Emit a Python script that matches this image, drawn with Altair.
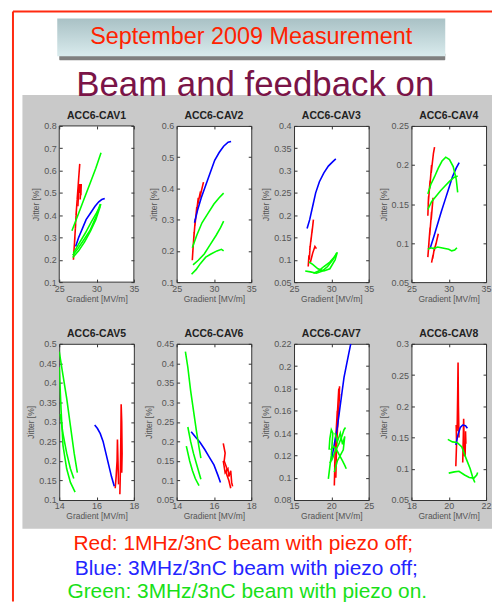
import altair as alt
import pandas as pd

# ---------------- text ----------------
TOP_TITLE = "September 2009 Measurement"
MAIN_TITLE = "Beam and feedback on"
LEGEND_LINES = [
    "Red: 1MHz/3nC beam with piezo off;",
    "Blue: 3MHz/3nC beam with piezo off;",
    "Green: 3MHz/3nC beam with piezo on.",
]
PANEL_TITLES = ["ACC6-CAV1", "ACC6-CAV2", "ACC6-CAV3", "ACC6-CAV4",
                "ACC6-CAV5", "ACC6-CAV6", "ACC6-CAV7", "ACC6-CAV8"]
X_LABEL = "Gradient [MV/m]"
Y_LABEL = "Jitter [%]"

# ---------------- axes ----------------
X_DOMAINS = [[25, 35], [25, 35], [25, 35], [25, 35], [14, 18], [14, 18], [15, 25], [18, 22]]
X_TICKS = [[25, 30, 35], [25, 30, 35], [25, 30, 35], [25, 30, 35],
           [14, 16, 18], [14, 16, 18], [15, 20, 25], [18, 20, 22]]
Y_DOMAINS = [[0.1, 0.8], [0.1, 0.6], [0.05, 0.4], [0.05, 0.25],
             [0.1, 0.5], [0.05, 0.45], [0.08, 0.22], [0.05, 0.3]]
Y_TICKS = [
    [0.1, 0.2, 0.3, 0.4, 0.5, 0.6, 0.7, 0.8],
    [0.1, 0.2, 0.3, 0.4, 0.5, 0.6],
    [0.05, 0.1, 0.15, 0.2, 0.25, 0.3, 0.35, 0.4],
    [0.05, 0.1, 0.15, 0.2, 0.25],
    [0.1, 0.15, 0.2, 0.25, 0.3, 0.35, 0.4, 0.45, 0.5],
    [0.05, 0.1, 0.15, 0.2, 0.25, 0.3, 0.35, 0.4, 0.45],
    [0.08, 0.1, 0.12, 0.14, 0.16, 0.18, 0.2, 0.22],
    [0.05, 0.1, 0.15, 0.2, 0.25, 0.3],
]

# ---------------- measured curves (gradient, jitter) ----------------
cav1_red_1 = [(26.9, 0.20), (27.0, 0.25), (26.95, 0.23), (27.1, 0.30), (27.05, 0.28), (27.2, 0.36),
              (27.15, 0.34), (27.3, 0.42), (27.25, 0.40), (27.45, 0.49), (27.4, 0.47), (27.6, 0.56),
              (27.55, 0.54), (27.75, 0.63)]
cav1_red_2 = [(27.5, 0.44), (27.65, 0.54), (27.75, 0.50), (27.85, 0.54), (27.9, 0.49), (27.95, 0.54), (27.8, 0.47)]
cav1_blue = [(27.2, 0.26), (27.6, 0.30), (28.1, 0.34), (28.6, 0.38), (29.2, 0.41), (29.8, 0.44),
             (30.3, 0.46), (30.7, 0.47), (31.1, 0.475)]
cav1_green_1 = [(26.7, 0.33), (27.5, 0.40), (28.3, 0.47), (29.1, 0.54), (29.9, 0.61), (30.6, 0.68)]
cav1_green_2 = [(26.8, 0.22), (27.5, 0.25), (28.3, 0.29), (29.1, 0.33), (29.9, 0.39), (30.5, 0.45)]
cav1_green_3 = [(26.8, 0.21), (27.6, 0.24), (28.4, 0.28), (29.2, 0.33), (29.9, 0.38), (30.5, 0.44)]
cav1_green_4 = [(26.9, 0.23), (27.6, 0.27), (28.5, 0.32), (29.3, 0.37), (30.0, 0.41), (30.6, 0.45)]

cav2_red = [(27.1, 0.17), (27.2, 0.21), (27.15, 0.19), (27.35, 0.26), (27.3, 0.24), (27.5, 0.30),
            (27.45, 0.28), (27.7, 0.34), (27.65, 0.32), (27.9, 0.37), (27.85, 0.35), (28.2, 0.39),
            (28.1, 0.37), (28.6, 0.42)]
cav2_blue = [(27.4, 0.29), (27.8, 0.33), (28.3, 0.37), (28.9, 0.41), (29.5, 0.45), (30.1, 0.49),
             (30.7, 0.515), (31.3, 0.535), (31.9, 0.548), (32.3, 0.55)]
cav2_green_1 = [(27.1, 0.21), (27.7, 0.25), (28.4, 0.29), (29.2, 0.32), (30.0, 0.35), (30.7, 0.37), (31.3, 0.385)]
cav2_green_2 = [(27.2, 0.155), (27.9, 0.17), (28.7, 0.19), (29.5, 0.22), (30.3, 0.25), (30.9, 0.275), (31.3, 0.295)]
cav2_green_3 = [(27.0, 0.125), (27.6, 0.14), (28.2, 0.16), (28.9, 0.18), (29.6, 0.19), (30.4, 0.2),
                (31.0, 0.205), (31.3, 0.2)]

cav3_red_1 = [(26.9, 0.085), (27.0, 0.11), (27.05, 0.10), (27.15, 0.13), (27.1, 0.12), (27.3, 0.15),
              (27.25, 0.14), (27.45, 0.17), (27.4, 0.16), (27.6, 0.19)]
cav3_red_2 = [(27.2, 0.095), (27.5, 0.115), (27.8, 0.13), (28.0, 0.125)]
cav3_blue = [(26.75, 0.17), (27.1, 0.19), (27.5, 0.22), (27.9, 0.25), (28.4, 0.275), (29.0, 0.295),
             (29.6, 0.31), (30.2, 0.32), (30.6, 0.326)]
cav3_green_1 = [(26.5, 0.075), (27.2, 0.073), (28.0, 0.07), (28.8, 0.075), (29.5, 0.085), (30.2, 0.1), (30.7, 0.115)]
cav3_green_2 = [(27.0, 0.095), (27.5, 0.09), (28.2, 0.08), (29.0, 0.075), (29.8, 0.08), (30.5, 0.1),
                (30.8, 0.117), (30.6, 0.11), (29.8, 0.095), (29.0, 0.085), (28.3, 0.075), (27.6, 0.07)]

cav4_red_1 = [(27.2, 0.135), (27.3, 0.16), (27.25, 0.15), (27.5, 0.18), (27.45, 0.17), (27.7, 0.20),
              (27.65, 0.19), (27.95, 0.215), (28.1, 0.223)]
cav4_red_2 = [(27.2, 0.082), (27.35, 0.10), (27.3, 0.095), (27.5, 0.12), (27.45, 0.11), (27.7, 0.14),
              (27.65, 0.13), (27.9, 0.158)]
cav4_red_3 = [(27.7, 0.075), (27.9, 0.085), (27.85, 0.08), (28.1, 0.095), (28.05, 0.09), (28.3, 0.10),
              (28.25, 0.097), (28.6, 0.112)]
cav4_blue = [(27.5, 0.093), (28.0, 0.108), (28.5, 0.124), (29.0, 0.14), (29.5, 0.155), (30.0, 0.17),
             (30.5, 0.185), (31.0, 0.196), (31.4, 0.203)]
cav4_green_1 = [(27.2, 0.163), (27.6, 0.175), (28.1, 0.185), (28.6, 0.196), (29.1, 0.205), (29.6, 0.21),
                (30.1, 0.207), (30.6, 0.198), (31.0, 0.182), (31.2, 0.165)]
cav4_green_2 = [(27.2, 0.143), (27.7, 0.153), (28.3, 0.16), (28.9, 0.167), (29.5, 0.173), (30.1, 0.179),
                (30.7, 0.184), (31.2, 0.186)]
cav4_green_3 = [(27.2, 0.092), (27.6, 0.094), (28.0, 0.093), (28.5, 0.095), (29.0, 0.094), (29.5, 0.093),
                (30.0, 0.092), (30.4, 0.09), (30.8, 0.091), (31.1, 0.094)]

cav5_red_1 = [(17.0, 0.13), (17.05, 0.16), (17.1, 0.2), (17.12, 0.255), (17.15, 0.2), (17.18, 0.14)]
cav5_red_2 = [(17.25, 0.115), (17.28, 0.18), (17.3, 0.25), (17.32, 0.345), (17.35, 0.3), (17.37, 0.22), (17.35, 0.17)]
cav5_blue = [(15.9, 0.292), (16.05, 0.283), (16.2, 0.27), (16.35, 0.25), (16.5, 0.22), (16.65, 0.19),
             (16.8, 0.16), (16.95, 0.135)]
cav5_green_1 = [(14.0, 0.48), (14.2, 0.42), (14.4, 0.36), (14.6, 0.29), (14.8, 0.22), (14.97, 0.17)]
cav5_green_2 = [(14.05, 0.32), (14.2, 0.27), (14.4, 0.22), (14.6, 0.18), (14.78, 0.155)]
cav5_green_3 = [(14.0, 0.44), (14.1, 0.33), (14.2, 0.24), (14.4, 0.18), (14.6, 0.145), (14.85, 0.12)]

cav6_red_1 = [(16.5, 0.195), (16.6, 0.17), (16.55, 0.15), (16.7, 0.13), (16.65, 0.12), (16.8, 0.1), (16.9, 0.08)]
cav6_red_2 = [(16.5, 0.15), (16.6, 0.12), (16.75, 0.13), (16.8, 0.11), (16.9, 0.125), (16.95, 0.095), (17.0, 0.085)]
cav6_blue = [(14.78, 0.225), (15.0, 0.212), (15.25, 0.198), (15.5, 0.18), (15.75, 0.16), (16.0, 0.14),
             (16.2, 0.115), (16.35, 0.095)]
cav6_green_1 = [(14.47, 0.43), (14.6, 0.39), (14.75, 0.33), (14.9, 0.28), (15.05, 0.23), (15.2, 0.185), (15.3, 0.157)]
cav6_green_2 = [(14.6, 0.237), (14.75, 0.2), (14.9, 0.17), (15.05, 0.145), (15.2, 0.12), (15.3, 0.103)]
cav6_green_3 = [(14.52, 0.188), (14.7, 0.15), (14.85, 0.125), (15.0, 0.105), (15.2, 0.087)]

cav7_red_1 = [(20.4, 0.093), (20.5, 0.12), (20.45, 0.11), (20.6, 0.14), (20.55, 0.13), (20.8, 0.16),
              (20.75, 0.15), (21.0, 0.18), (21.05, 0.17), (21.1, 0.182)]
cav7_red_2 = [(20.6, 0.10), (20.7, 0.13), (20.65, 0.12), (20.9, 0.155), (20.85, 0.145), (21.1, 0.175)]
cav7_blue = [(20.0, 0.115), (20.4, 0.13), (20.8, 0.145), (21.1, 0.16), (21.4, 0.175), (21.7, 0.19),
             (22.0, 0.2), (22.3, 0.21), (22.6, 0.22)]
cav7_green_1 = [(19.6, 0.099), (19.8, 0.11), (20.0, 0.12), (20.1, 0.13), (20.2, 0.14), (20.0, 0.143),
                (19.8, 0.135), (19.7, 0.125)]
cav7_green_2 = [(19.8, 0.113), (20.2, 0.118), (20.6, 0.125), (21.0, 0.13), (21.4, 0.137), (21.7, 0.143), (21.9, 0.145)]
cav7_green_3 = [(19.9, 0.125), (20.3, 0.128), (20.7, 0.125), (21.1, 0.12), (21.5, 0.115), (21.8, 0.111), (22.0, 0.108)]
cav7_green_4 = [(20.5, 0.14), (20.8, 0.132), (21.2, 0.14), (21.5, 0.13), (21.8, 0.137), (21.6, 0.125),
                (21.2, 0.12), (20.8, 0.115), (20.4, 0.105)]

cav8_red_1 = [(20.38, 0.104), (20.42, 0.14), (20.4, 0.17), (20.45, 0.16), (20.48, 0.22), (20.5, 0.27),
              (20.52, 0.2), (20.55, 0.15)]
cav8_red_2 = [(20.75, 0.11), (20.78, 0.15), (20.8, 0.18), (20.83, 0.14), (20.85, 0.12)]
cav8_red_3 = [(20.88, 0.12), (20.9, 0.16), (20.92, 0.14)]
cav8_blue = [(20.38, 0.138), (20.5, 0.155), (20.62, 0.166), (20.75, 0.17), (20.9, 0.169), (21.0, 0.165)]
cav8_green_1 = [(19.95, 0.147), (20.2, 0.143), (20.45, 0.142), (20.7, 0.135), (20.95, 0.115), (21.15, 0.1),
                (21.3, 0.085), (21.4, 0.078)]
cav8_green_2 = [(20.0, 0.093), (20.3, 0.095), (20.55, 0.096), (20.85, 0.09), (21.1, 0.086), (21.35, 0.085),
                (21.5, 0.09), (21.55, 0.094)]

PANEL_SERIES = [
    [("red", cav1_red_1), ("red", cav1_red_2), ("blue", cav1_blue),
     ("green", cav1_green_1), ("green", cav1_green_2), ("green", cav1_green_3), ("green", cav1_green_4)],
    [("red", cav2_red), ("blue", cav2_blue),
     ("green", cav2_green_1), ("green", cav2_green_2), ("green", cav2_green_3)],
    [("red", cav3_red_1), ("red", cav3_red_2), ("blue", cav3_blue),
     ("green", cav3_green_1), ("green", cav3_green_2)],
    [("red", cav4_red_1), ("red", cav4_red_2), ("red", cav4_red_3), ("blue", cav4_blue),
     ("green", cav4_green_1), ("green", cav4_green_2), ("green", cav4_green_3)],
    [("red", cav5_red_1), ("red", cav5_red_2), ("blue", cav5_blue),
     ("green", cav5_green_1), ("green", cav5_green_2), ("green", cav5_green_3)],
    [("red", cav6_red_1), ("red", cav6_red_2), ("blue", cav6_blue),
     ("green", cav6_green_1), ("green", cav6_green_2), ("green", cav6_green_3)],
    [("red", cav7_red_1), ("red", cav7_red_2), ("blue", cav7_blue),
     ("green", cav7_green_1), ("green", cav7_green_2), ("green", cav7_green_3), ("green", cav7_green_4)],
    [("red", cav8_red_1), ("red", cav8_red_2), ("red", cav8_red_3), ("blue", cav8_blue),
     ("green", cav8_green_1), ("green", cav8_green_2)],
]

SERIES_NAMES = ["red", "blue", "green"]
SERIES_COLORS = ["#ff0000", "#0000ff", "#00ff00"]

FONT = "Liberation Sans"
PW, PH = 75, 157
FRAME = "#333333"

one = pd.DataFrame({"k": [0]})


def rect(x, x2, y, y2, **kw):
    return alt.Chart(one).mark_rect(**kw).encode(
        x=alt.value(x), x2=alt.value(x2), y=alt.value(y), y2=alt.value(y2))


def text(t, x, y, **kw):
    return alt.Chart(pd.DataFrame({"t": [t]})).mark_text(font=FONT, **kw).encode(
        text="t:N", x=alt.value(x), y=alt.value(y))


# page decoration, drawn from the first panel (coordinates relative to its plot area)
def decorations():
    gray_bg = rect(-37, 435, -31, 405, color="#c9c9c9")
    red_top = alt.Chart(one).mark_rule(color="#ff2a10", strokeWidth=2).encode(
        x=alt.value(-46.5), x2=alt.value(435), y=alt.value(-115))
    red_left = alt.Chart(one).mark_rule(color="#ff2a10", strokeWidth=2).encode(
        x=alt.value(-46.5), y=alt.value(-115), y2=alt.value(478))
    shadow = rect(0, 388, -73, -66, color="#555555", opacity=0.75, cornerRadius=1)
    box = rect(-2, 388, -108, -70, color=alt.LinearGradient(
        gradient="linear",
        stops=[alt.GradientStop(color="#a9c1c5", offset=0), alt.GradientStop(color="#d9ebed", offset=1)],
        x1=0, x2=0, y1=0, y2=1))
    top_title = text(TOP_TITLE, 193, -82, fontSize=23.5, color="#ff2200", baseline="alphabetic")
    main_title = text(MAIN_TITLE, 197, -30, fontSize=35, color="#7a1447", baseline="alphabetic")
    leg_colors = ["#ff2000", "#2424ff", "#18e018"]
    leg_x = [185, 188, 189]
    leg_y = [426, 451, 474]
    legend_marks = [text(LEGEND_LINES[j], leg_x[j], leg_y[j], fontSize=21, color=leg_colors[j],
                         baseline="alphabetic") for j in range(3)]
    plot_bg = rect(0, PW, 0, PH, fill="white", stroke=FRAME, strokeWidth=1)
    return [gray_bg, red_top, red_left, shadow, box, top_title, main_title, *legend_marks, plot_bg]


def panel(k):
    rows = []
    for sid, (name, pts) in enumerate(PANEL_SERIES[k]):
        for i, (x, y) in enumerate(pts):
            rows.append({"x": x, "y": y, "s": sid, "c": name, "i": i})
    df = pd.DataFrame(rows)
    z = 1 if k == 0 else 0
    xs = alt.Scale(domain=X_DOMAINS[k], nice=False, zero=False)
    ys = alt.Scale(domain=Y_DOMAINS[k], nice=False, zero=False)
    base = alt.Chart(df)
    lines = base.mark_line(strokeWidth=1.6, clip=True).encode(
        x=alt.X("x:Q", scale=xs, axis=alt.Axis(
            values=X_TICKS[k], title=X_LABEL, orient="bottom", offset=-3, tickSize=3,
            labelPadding=2, titlePadding=1, labelFlush=False, domain=False, zindex=z)),
        y=alt.Y("y:Q", scale=ys, axis=alt.Axis(
            values=Y_TICKS[k], format="~g", title=Y_LABEL, orient="left", offset=-3, tickSize=3,
            labelPadding=3, titlePadding=3, labelFlush=False, domain=False, zindex=z)),
        color=alt.Color("c:N", scale=alt.Scale(domain=SERIES_NAMES, range=SERIES_COLORS), legend=None),
        detail="s:N",
        order="i:Q",
    )
    mirror = base.mark_line(strokeOpacity=0).encode(
        x=alt.X("x:Q", scale=xs, axis=alt.Axis(
            values=X_TICKS[k], orient="top", labels=False, title=None, offset=-3, tickSize=3,
            domain=False, zindex=z)),
        y=alt.Y("y:Q", scale=ys, axis=alt.Axis(
            values=Y_TICKS[k], orient="right", labels=False, title=None, offset=-3, tickSize=3,
            domain=False, zindex=z)),
        detail="s:N",
        order="i:Q",
    )
    title = text(PANEL_TITLES[k], PW / 2, -7, fontSize=10.5, fontWeight="bold", color="#222",
                 baseline="alphabetic")
    layers = (decorations() if k == 0 else []) + [lines, mirror, title]
    return alt.layer(*layers).resolve_axis(x="independent", y="independent").properties(
        width=PW, height=PH,
        view=alt.ViewBackground(fill="white", stroke=FRAME, strokeWidth=1),
    )


chart = alt.concat(*[panel(k) for k in range(8)], columns=4,
                   spacing={"row": 62, "column": 43}, bounds="flush").properties(
    padding={"left": 3.5, "top": 0, "right": 0, "bottom": 0},
    background="white",
).configure_axis(
    labelFont=FONT, titleFont=FONT, labelFontSize=9, titleFontSize=8.5,
    labelColor="#555", titleColor="#555", titleFontWeight="normal",
    tickColor="#333", grid=False,
)

chart.save("out.html", embed_options={"renderer": "svg", "actions": False})
